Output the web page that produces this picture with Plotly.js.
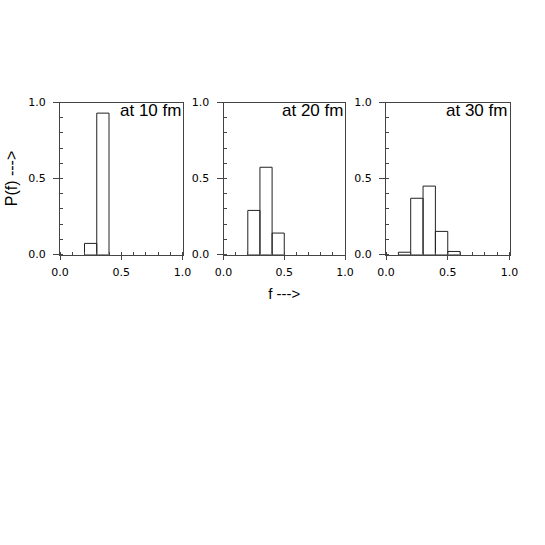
<!DOCTYPE html>
<html><head><meta charset="utf-8">
<script src="https://cdn.plot.ly/plotly-3.0.1.min.js"></script>
<style>html,body{margin:0;padding:0;background:#fff}</style>
</head><body>
<div id="chart" style="width:545px;height:545px"></div>
<script>
// Bin centres (bin width 0.1) and probabilities
const bins10 = [0.25, 0.35];
const p10 = [0.073, 0.93];
const bins20 = [0.25, 0.35, 0.45];
const p20 = [0.29, 0.574, 0.141];
const bins30 = [0.15, 0.25, 0.35, 0.45, 0.55];
const p30 = [0.015, 0.37, 0.45, 0.152, 0.02];
const panelLabels = ["at 10 fm", "at 20 fm", "at 30 fm"];
const xTicks = [0, 0.5, 1];
const xTickText = ["0.0", "0.5", "1.0"];
const yTicks = [0, 0.5, 1];
const yTickText = ["0.0", "0.5", "1.0"];

const binWidth = 0.1;
const data = [[bins10,p10],[bins20,p20],[bins30,p30]].map((d,i)=>({
  type:'bar', x:d[0], y:d[1], width:binWidth,
  xaxis: i===0?'x':'x'+(i+1), yaxis: i===0?'y':'y'+(i+1),
  marker:{color:'rgba(255,255,255,0)', line:{color:'#222', width:1}},
  showlegend:false, hoverinfo:'skip'
}));

const tickFont = {family:'DejaVu Sans, sans-serif', size:11, color:'#000'};
const xdoms = [[60/545,182.5/545],[223.5/545,345/545],[386/545,509.5/545]];
const ydom = [1-254.5/545, 1-102.5/545];
const layout = {
  width:545, height:545, margin:{l:0,r:0,t:0,b:0},
  paper_bgcolor:'#fff', plot_bgcolor:'#fff',
  bargap:0, annotations:[]
};
for (let i=0;i<3;i++){
  const xs = i===0?'xaxis':'xaxis'+(i+1);
  const ys = i===0?'yaxis':'yaxis'+(i+1);
  layout[xs] = {
    domain:xdoms[i], range:[0,1], anchor: i===0?'y':'y'+(i+1),
    showgrid:false, zeroline:false, showline:true, mirror:true,
    linecolor:'#444', linewidth:1,
    tickmode:'array', tickvals:xTicks, ticktext:xTickText,
    ticks:'outside', ticklen:4, tickcolor:'#444', tickfont:tickFont,
    ticklabelstandoff:3,
    minor:{ticks:'inside', dtick:0.1, tick0:0, ticklen:3, tickcolor:'#444', showgrid:false},
    fixedrange:true
  };
  layout[ys] = {
    domain:ydom, range:[0,1], anchor: i===0?'x':'x'+(i+1),
    showgrid:false, zeroline:false, showline:true, mirror:true,
    linecolor:'#444', linewidth:1,
    tickmode:'array', tickvals:yTicks, ticktext:yTickText,
    ticks:'outside', ticklen:6, tickcolor:'#444', tickfont:tickFont,
    ticklabelstandoff:5,
    minor:{ticks:'inside', dtick:0.1, tick0:0, ticklen:3, tickcolor:'#444', showgrid:false},
    fixedrange:true
  };
  layout.annotations.push({
    text:panelLabels[i], xref:(i===0?'x':'x'+(i+1))+' domain', yref:(i===0?'y':'y'+(i+1))+' domain',
    x:1, y:1, xanchor:'right', yanchor:'top', showarrow:false,
    font:{family:'Liberation Sans, Arial, sans-serif', size:17, color:'#000'}, xshift:0, yshift:3
  });
}
layout.yaxis.title = {text:'P(f) --->', font:{family:'Liberation Sans, Arial, sans-serif', size:16, color:'#000'}, standoff:6};
layout.xaxis2.title = {text:'f --->', font:{family:'Liberation Sans, Arial, sans-serif', size:15, color:'#000'}, standoff:10};

Plotly.newPlot('chart', data, layout, {staticPlot:true, displayModeBar:false});
</script>
</body></html>
